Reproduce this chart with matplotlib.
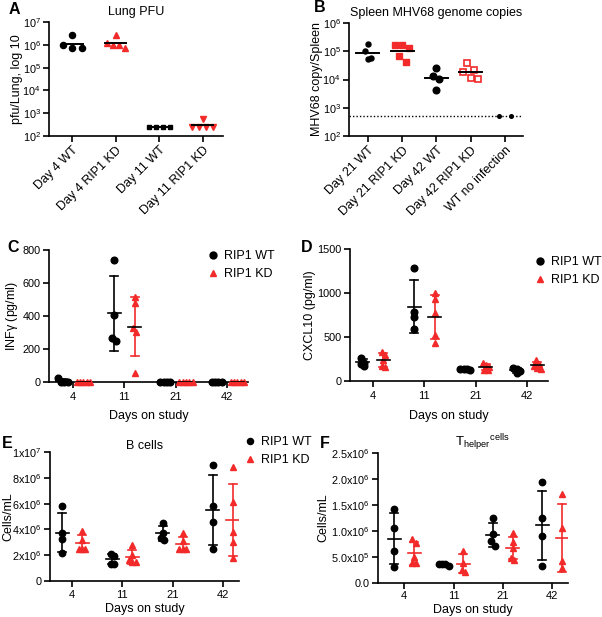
import numpy as np
import matplotlib
matplotlib.use("Agg")
import matplotlib.pyplot as plt
from matplotlib import font_manager
from matplotlib.lines import Line2D

# ---------- font ----------
def pick_font():
    for f in ["Liberation Sans", "DejaVu Sans"]:
        try:
            font_manager.findfont(f, fallback_to_default=False)
            return f
        except Exception:
            pass
    return "DejaVu Sans"

FONT = pick_font()
plt.rcParams["font.family"] = [FONT, "DejaVu Sans"]
plt.rcParams["mathtext.fontset"] = "custom"
plt.rcParams["mathtext.rm"] = FONT
plt.rcParams["mathtext.it"] = FONT + ":italic"
plt.rcParams["mathtext.default"] = "regular"

RED = "#f22a2a"

# ---------- data ----------
# Panel A: Lung PFU
a_groups = ["Day 4 WT", "Day 4 RIP1 KD", "Day 11 WT", "Day 11 RIP1 KD"]
a_vals = [
    [1.0e6, 2.7e6, 7.5e5, 7.5e5],
    [1.2e6, 1.0e6, 2.7e6, 1.0e6, 7.0e5],
    [250, 250, 250, 250],
    [540, 250, 250, 250, 250],
]
a_center = [1.1e6, 1.2e6, 250, 290]

# Panel B: Spleen MHV68 genome copies
b_groups = ["Day 21 WT", "Day 21 RIP1 KD", "Day 42 WT", "Day 42 RIP1 KD", "WT no infection"]
b_vals = [
    [1.87e5, 1.0e5, 6.0e4, 5.5e4],
    [1.7e5, 1.63e5, 1.35e5, 6.6e4, 4.1e4],
    [2.6e4, 1.31e4, 1.08e4, 4.4e3],
    [3.7e4, 2.1e4, 1.8e4, 1.15e4, 1.05e4],
    [500, 500],
]
b_center = [9.0e4, 1.0e5, 1.15e4, 1.8e4, None]
b_lod = 500

days = ["4", "11", "21", "42"]

# Panel C: IFN-gamma
c_wt = [[0, 0, 2, 22], [739, 409, 247, 267], [0, 0, 0, 0], [0, 0, 0, 0]]
c_kd = [[0, 0, 0, 0, 0], [516, 476, 330, 302, 57], [0, 0, 0, 0, 0], [0, 0, 0, 0, 0]]

# Panel D: CXCL10
d_wt = [[265, 210, 195, 175], [1284, 782, 725, 589], [140, 135, 130, 138], [150, 135, 110, 90]]
d_kd = [[330, 300, 240, 170, 160], [999, 934, 771, 524, 429], [200, 180, 160, 130, 120],
        [240, 190, 165, 150, 140]]

# Panel E: B cells
e_wt = [[5.84e6, 3.7e6, 3.23e6, 2.2e6], [1.94e6, 2.09e6, 1.34e6, 1.34e6],
        [4.47e6, 3.75e6, 3.18e6, 3.33e6], [9.02e6, 5.84e6, 4.6e6, 2.5e6]]
e_kd = [[3.9e6, 3.2e6, 2.48e6, 2.48e6, 2.48e6], [2.8e6, 2.0e6, 1.6e6, 1.5e6, 1.5e6],
        [3.75e6, 3.1e6, 2.45e6, 2.45e6, 2.45e6], [8.86e6, 6.15e6, 3.82e6, 3.05e6, 1.76e6]]

# Panel F: T helper cells
f_wt = [[1.417e6, 1.064e6, 6.22e5, 3.08e5], [3.27e5, 3.59e5, 3.72e5, 3.72e5],
        [1.244e6, 9.42e5, 8.14e5, 7.18e5], [1.94e6, 1.244e6, 9.1e5, 3.33e5]]
f_kd = [[8.4e5, 7.76e5, 4.94e5, 3.78e5, 3.78e5], [6.2e5, 3.8e5, 2.5e5, 2.2e5],
        [9.7e5, 7.8e5, 6.8e5, 4.5e5, 4.9e5], [1.72e6, 1.05e6, 4.2e5, 2.9e5]]

# ---------- helpers ----------
fig = plt.figure(figsize=(6.02, 6.17), dpi=100)


def style_axes(ax):
    for s in ["top", "right"]:
        ax.spines[s].set_visible(False)
    for s in ["left", "bottom"]:
        ax.spines[s].set_linewidth(1.2)
    ax.tick_params(direction="out", width=1.2, length=4, labelsize=7.8, pad=2)


def sym_swarm(ax, x0, vals, step_px, row_px):
    """Swarm where points in one row are centred (GraphPad style)."""
    fig.canvas.draw()
    pts = ax.transData.transform(np.column_stack([np.full(len(vals), x0), vals]))
    ys = pts[:, 1]
    order = np.argsort(-ys)
    rows = []
    for i in order:
        if rows and abs(ys[rows[-1][0]] - ys[i]) < row_px:
            rows[-1].append(i)
        else:
            rows.append([i])
    xdisp = np.zeros(len(vals))
    for r in rows:
        n = len(r)
        for k, i in enumerate(r):
            xdisp[i] = pts[i, 0] + (k - (n - 1) / 2) * step_px
    inv = ax.transData.inverted()
    return inv.transform(np.column_stack([xdisp, ys]))[:, 0]


def px2data(ax, px):
    fig.canvas.draw()
    p0 = ax.transData.transform((0, 1))
    p1 = ax.transData.transform((1, 1))
    return px / (p1[0] - p0[0])


def label(letter, x, y):
    fig.text(x / 602, 1 - y / 617, letter, fontsize=11.5, fontweight="bold",
             va="center", ha="left")


def place_ylabel(ax, right_px, left_px, width_px):
    ax.yaxis.set_label_coords((right_px - left_px) / width_px, 0.5)


def place_xlabel(ax, top_px, bottom_px, height_px):
    ax.xaxis.set_label_coords(0.5, (bottom_px - top_px) / height_px)


# ---------- Panel A ----------
axA = fig.add_axes([49 / 602, 1 - 136 / 617, 174 / 602, 114 / 617])
style_axes(axA)
axA.set_yscale("log")
axA.set_ylim(1e2, 1e7)
axA.set_xlim(-0.53, 3.46)
axA.set_yticks([1e2, 1e3, 1e4, 1e5, 1e6, 1e7])
axA.minorticks_off()
axA.set_xticks(range(len(a_groups)))
axA.set_xticklabels(a_groups, rotation=45, ha="right", rotation_mode="anchor", fontsize=9)
axA.set_ylabel("pfu/Lung, log 10", fontsize=9)
place_ylabel(axA, 23, 49, 174)
axA.set_title("Lung PFU", fontsize=9, pad=5)
a_markers = [("o", "black", 4.4, 9.5), ("^", RED, 4.6, 6.0), ("s", "black", 3.2, 7.0),
             ("v", RED, 4.0, 7.0)]
for i, vals in enumerate(a_vals):
    m, col, ms, step = a_markers[i]
    xs = sym_swarm(axA, i, vals, step, 6)
    axA.plot(xs, vals, ls="none", marker=m, color=col, ms=ms, zorder=3)
    hw = px2data(axA, 10.5)
    axA.plot([i - hw, i + hw], [a_center[i]] * 2, color="black", lw=1.4, zorder=4)
label("A", 9, 10)

# ---------- Panel B ----------
axB = fig.add_axes([349 / 602, 1 - 136 / 617, 174 / 602, 113 / 617])
style_axes(axB)
axB.set_yscale("log")
axB.set_ylim(1e2, 1e6)
axB.set_xlim(-0.55, 4.53)
axB.set_yticks([1e2, 1e3, 1e4, 1e5, 1e6])
axB.minorticks_off()
axB.set_xticks(range(len(b_groups)))
axB.set_xticklabels(b_groups, rotation=45, ha="right", rotation_mode="anchor", fontsize=9)
axB.set_ylabel("MHV68 copy/Spleen", fontsize=9)
place_ylabel(axB, 323, 349, 174)
axB.set_title("Spleen MHV68 genome copies", fontsize=9, pad=5)
axB.axhline(b_lod, color="black", ls=(0, (1, 1.5)), lw=1.0, zorder=1)
b_markers = [("o", "black", "black", 3.6, 1, 5.6), ("s", RED, RED, 3.9, 1, 7.0),
             ("o", "black", "black", 4.8, 1, 6.0), ("s", "white", RED, 4.2, 1.2, 7.5),
             ("o", "black", "black", 2.6, 1, 12.0)]
for i, vals in enumerate(b_vals):
    m, fc, ec, ms, mew, step = b_markers[i]
    xs = sym_swarm(axB, i, vals, step, 7)
    axB.plot(xs, vals, ls="none", marker=m, mfc=fc, mec=ec, ms=ms, mew=mew, zorder=3)
    if b_center[i] is not None:
        hw = px2data(axB, 11.5)
        axB.plot([i - hw, i + hw], [b_center[i]] * 2, color="black", lw=1.4, zorder=4)
label("B", 314, 8)


# ---------- scatter + mean/SD panels ----------
def scatter_panel(ax, wt, kd, ylim, yticks, ylabel, kd_line_color, ms_o, ms_t, xpad=3.5):
    style_axes(ax)
    ax.tick_params(axis="x", pad=xpad)
    ax.set_ylim(*ylim)
    ax.set_xticks(range(len(days)))
    ax.set_xticklabels(days, fontsize=8)
    ax.set_yticks(yticks)
    ax.set_xlabel("Days on study", fontsize=9, va="top")
    ax.set_ylabel(ylabel, fontsize=9)
    hw_mean = px2data(ax, 6.5)
    hw_cap = px2data(ax, 4.0)
    off = 0.2
    for i in range(len(days)):
        for vals, sgn, color, marker, lcol, ms in [(wt[i], -1, "black", "o", "black", ms_o),
                                                  (kd[i], 1, RED, "^", kd_line_color, ms_t)]:
            x0 = i + sgn * off
            vals = np.asarray(vals, dtype=float)
            xs = sym_swarm(ax, x0, vals, 3.3, 5)
            m = vals.mean()
            sd = vals.std(ddof=1)
            ax.plot(xs, vals, ls="none", marker=marker, color=color, ms=ms, zorder=3, clip_on=False)
            ax.plot([x0, x0], [m - sd, m + sd], color=color, lw=1.2, zorder=2)
            ax.plot([x0 - hw_cap, x0 + hw_cap], [m + sd] * 2, color=color, lw=1.2, zorder=2)
            ax.plot([x0 - hw_cap, x0 + hw_cap], [m - sd] * 2, color=color, lw=1.2, zorder=2)
            ax.plot([x0 - hw_mean, x0 + hw_mean], [m, m], color=lcol, lw=1.2, zorder=4)


def add_legend(ax, x, y, ms_o=5.0, ms_t=5.0):
    h = [Line2D([], [], ls="none", marker="o", color="black", ms=ms_o),
         Line2D([], [], ls="none", marker="^", color=RED, ms=ms_t)]
    ax.legend(h, ["RIP1 WT", "RIP1 KD"], loc="upper left", bbox_to_anchor=(x, y),
              bbox_transform=fig.transFigure, frameon=False, fontsize=9,
              handlelength=0.8, handletextpad=0.5, labelspacing=0.5, borderpad=0,
              borderaxespad=0)


# Panel C
axC = fig.add_axes([49 / 602, 1 - 382 / 617, 199 / 602, 132 / 617])
axC.set_xlim(-0.47, 3.41)
scatter_panel(axC, c_wt, c_kd, (0, 800), [0, 200, 400, 600, 800], r"INF$\gamma$ (pg/ml)",
              "black", 4.8, 4.8)
place_ylabel(axC, 20, 49, 199)
place_xlabel(axC, 410, 382, 132)
add_legend(axC, 208 / 602, 1 - 250 / 617)
label("C", 7, 248)

# Panel D
axD = fig.add_axes([350 / 602, 1 - 381 / 617, 198 / 602, 132 / 617])
axD.set_xlim(-0.45, 3.41)
scatter_panel(axD, d_wt, d_kd, (0, 1500), [0, 500, 1000, 1500], "CXCL10 (pg/ml)", "black",
              4.8, 4.8)
place_ylabel(axD, 316, 350, 198)
place_xlabel(axD, 410, 381, 132)
add_legend(axD, 535 / 602, 1 - 256 / 617)
label("D", 301, 248)

# Panel E
axE = fig.add_axes([50 / 602, 1 - 581 / 617, 189 / 602, 129 / 617])
axE.set_xlim(-0.44, 3.32)
e_ticks = [0, 2e6, 4e6, 6e6, 8e6, 1e7]
scatter_panel(axE, e_wt, e_kd, (0, 1e7), e_ticks, "Cells/mL", RED, 4.6, 4.0, xpad=2.5)
axE.set_yticklabels(["0", r"2x10$^{6}$", r"4x10$^{6}$", r"6x10$^{6}$", r"8x10$^{6}$",
                     r"1x10$^{7}$"])
place_ylabel(axE, 14, 50, 189)
place_xlabel(axE, 603, 581, 129)
axE.set_title("B cells", fontsize=9, pad=1)
add_legend(axE, 245 / 602, 1 - 436 / 617, 4.4, 4.0)
label("E", 2, 444)

# Panel F
axF = fig.add_axes([378 / 602, 1 - 583 / 617, 190 / 602, 130 / 617])
axF.set_xlim(-0.53, 3.32)
f_ticks = [0, 5e5, 1e6, 1.5e6, 2e6, 2.5e6]
scatter_panel(axF, f_wt, f_kd, (0, 2.5e6), f_ticks, "Cells/mL", RED, 4.6, 4.0, xpad=2.0)
axF.set_yticklabels(["0.0", r"5.0x10$^{5}$", r"1.0x10$^{6}$", r"1.5x10$^{6}$", r"2.0x10$^{6}$",
                     r"2.5x10$^{6}$"])
place_ylabel(axF, 329, 378, 190)
place_xlabel(axF, 604, 583, 130)
axF.set_title(r"T$_{helper}{}^{cells}$", fontsize=9.5, pad=-3, x=0.55)
label("F", 320, 443)

fig.savefig("out.png", dpi=100)
